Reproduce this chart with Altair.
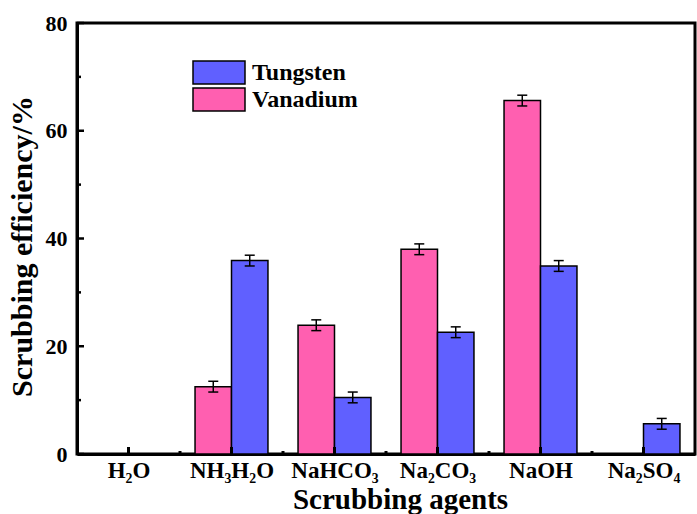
import altair as alt
import pandas as pd

# ---- data ----
agents = ["H₂O", "NH₃H₂O", "NaHCO₃", "Na₂CO₃", "NaOH", "Na₂SO₄"]
vanadium = [0, 12.5, 23.9, 38.0, 65.6, 0]
vanadium_err = [0, 1.0, 1.0, 1.0, 1.0, 0]
tungsten = [0, 35.9, 10.5, 22.6, 34.9, 5.6]
tungsten_err = [0, 1.0, 1.0, 1.0, 1.0, 1.0]
series = ["Tungsten", "Vanadium"]
y_major = [0, 20, 40, 60, 80]
y_minor = [10, 30, 50, 70]
x_major = [1, 2, 3, 4, 5, 6]
x_minor = [1.5, 2.5, 3.5, 4.5, 5.5]

rows = []
for i, a in enumerate(agents):
    rows.append({"idx": i + 1, "agent": a, "series": "Vanadium", "value": vanadium[i], "err": vanadium_err[i]})
    rows.append({"idx": i + 1, "agent": a, "series": "Tungsten", "value": tungsten[i], "err": tungsten_err[i]})
df = pd.DataFrame(rows)

FONT = "Liberation Serif"
PINK = "#ff5fb0"
BLUE = "#6060ff"
BW = 0.354

label_list = "[" + ",".join("'" + a + "'" for a in agents) + "]"

xscale = alt.Scale(domain=[0.5, 6.5], nice=False, zero=False)
yscale = alt.Scale(domain=[0, 80], nice=False)
xaxis = alt.Axis(values=x_major, labelExpr=label_list + "[datum.value-1]", ticks=False, grid=False,
                 domainColor="black", domainWidth=3, labelFont=FONT, labelFontSize=23,
                 labelFontWeight="bold", labelColor="black", labelPadding=5, labelFlush=False,
                 labelOverlap=False, labelBound=False,
                 titleFont=FONT, titleFontSize=29, titleFontWeight="bold", titleColor="black",
                 titleX=323, titleY=54, titleBaseline="alphabetic")
yaxis = alt.Axis(values=y_major, ticks=False, grid=False, domainColor="black", domainWidth=3,
                 labelFont=FONT, labelFontSize=22, labelFontWeight="bold", labelColor="black",
                 labelPadding=10, labelFlush=False,
                 titleFont=FONT, titleFontSize=30, titleFontWeight="bold", titleColor="black",
                 titleX=-46, titleY=223, titleBaseline="alphabetic", titleAngle=270)


def X(field):
    return alt.X(field, type="quantitative", scale=xscale, axis=xaxis, title="Scrubbing agents")


def Y(field):
    return alt.Y(field, type="quantitative", scale=yscale, axis=yaxis, title="Scrubbing efficiency/%")


base = alt.Chart(df).transform_filter("datum.value > 0").transform_calculate(
    xa="datum.idx + (datum.series == 'Vanadium' ? -%f : 0)" % BW,
    xb="datum.idx + (datum.series == 'Vanadium' ? 0 : %f)" % BW,
    xc="datum.idx + (datum.series == 'Vanadium' ? -%f : %f)" % (BW / 2, BW / 2),
    lo="datum.value - datum.err",
    hi="datum.value + datum.err",
    zero="0",
)

bars = base.mark_bar(stroke="black", strokeWidth=1.5, opacity=1).encode(
    x=X("xa"),
    x2="xb:Q",
    y=Y("value"),
    y2="zero:Q",
    color=alt.Color("series:N", scale=alt.Scale(domain=series, range=[BLUE, PINK]),
                    legend=alt.Legend(orient="none", legendX=115, legendY=36, title=None,
                                      symbolType="M-1,-0.44L1,-0.44L1,0.44L-1,0.44Z",
                                      symbolSize=2704, symbolStrokeColor="black",
                                      symbolStrokeWidth=1.5, symbolOpacity=1,
                                      clipHeight=27, rowPadding=0, padding=0, labelOffset=6,
                                      labelFont=FONT, labelFontSize=24, labelFontWeight="bold",
                                      labelColor="black", labelBaseline="middle")),
)

err_rule = base.mark_rule(color="black", strokeWidth=1.5).encode(
    x=X("xc"), y=Y("lo"), y2="hi:Q")
cap_lo = base.mark_tick(orient="horizontal", size=10, thickness=1.5, color="black", opacity=1).encode(
    x=X("xc"), y=Y("lo"))
cap_hi = base.mark_tick(orient="horizontal", size=10, thickness=1.5, color="black", opacity=1).encode(
    x=X("xc"), y=Y("hi"))

ymaj = alt.Chart(pd.DataFrame({"v": y_major})).mark_rule(color="black", strokeWidth=2.5).encode(
    y=Y("v"), x=alt.value(0), x2=alt.value(7))
ymin = alt.Chart(pd.DataFrame({"v": y_minor})).mark_rule(color="black", strokeWidth=2.5).encode(
    y=Y("v"), x=alt.value(0), x2=alt.value(4))
xmaj = alt.Chart(pd.DataFrame({"v": x_major})).mark_rule(color="black", strokeWidth=3).encode(
    x=X("v"), y=alt.value(431), y2=alt.value(424))
xmin = alt.Chart(pd.DataFrame({"v": x_minor})).mark_rule(color="black", strokeWidth=3).encode(
    x=X("v"), y=alt.value(431), y2=alt.value(428))

chart = alt.layer(bars, err_rule, cap_lo, cap_hi, ymaj, ymin, xmaj, xmin).properties(
    width=618, height=431,
    autosize=alt.AutoSizeParams(type="none"),
    padding={"left": 77, "top": 23, "right": 2, "bottom": 60},
    background="white",
).configure_view(stroke="black", strokeWidth=3)

chart.save("out.html", embed_options={"renderer": "svg", "actions": False})
